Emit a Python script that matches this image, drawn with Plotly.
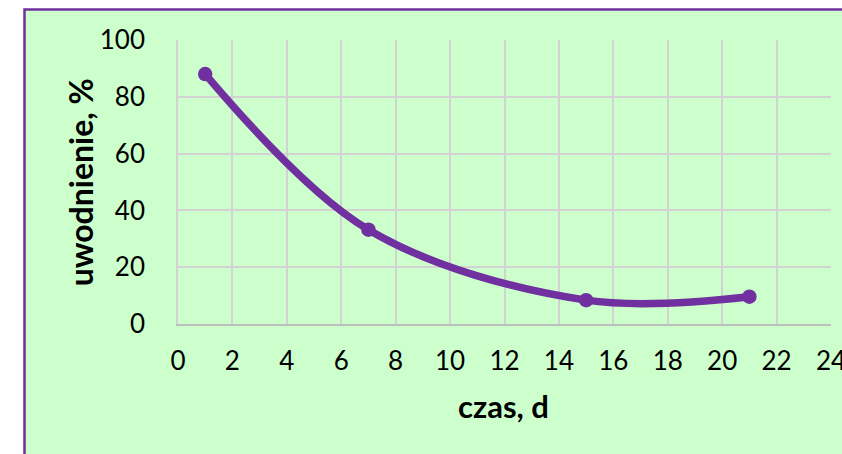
import plotly.graph_objects as go

# Hydration over time
czas = [1, 7, 15, 21]
uwodnienie = [88.0, 33.2, 8.4, 9.6]

x_ticks = list(range(0, 25, 2))
y_ticks = list(range(0, 101, 20))

W, H = 842, 454
ML, MR, MT, MB = 178, 11, 40, 129.5
pw = W - ML - MR
ph = H - MT - MB

PURPLE = "#7030A0"
GREEN = "#CCFFCC"
GRID = "#D2D2D2"
FONT = "Lato"


def px_x(p):
    return (p - ML) / pw


def px_y(p):
    return 1 - (p - MT) / ph


fig = go.Figure()
fig.add_trace(go.Scatter(
    x=czas, y=uwodnienie,
    mode="lines+markers",
    line=dict(color=PURPLE, width=7.5, shape="spline", smoothing=1),
    marker=dict(color=PURPLE, size=14.5),
    showlegend=False,
    hoverinfo="skip",
))

# green chart panel with purple frame (left and top edges visible)
fig.add_shape(
    type="rect", xref="paper", yref="paper",
    x0=px_x(24.5), x1=px_x(W + 20), y0=px_y(H + 20), y1=px_y(9.5),
    fillcolor=GREEN, line=dict(color=PURPLE, width=2.5), layer="below",
)

# axis titles
fig.add_annotation(
    text="<b>czas, d</b>", xref="paper", yref="paper",
    x=px_x(503), y=px_y(407), xanchor="center", yanchor="middle",
    showarrow=False, font=dict(family=FONT, size=31, color="black"),
)
fig.add_annotation(
    text="<b>uwodnienie, %</b>", xref="paper", yref="paper",
    x=px_x(80), y=px_y(182.5), xanchor="center", yanchor="middle",
    textangle=-90, showarrow=False,
    font=dict(family=FONT, size=32, color="black"),
)

fig.update_layout(
    width=W, height=H,
    margin=dict(l=ML, r=MR, t=MT, b=MB),
    paper_bgcolor="white",
    plot_bgcolor="rgba(0,0,0,0)",
    font=dict(family=FONT, size=26, color="black"),
)
fig.update_xaxes(
    range=[0, 24], tickvals=x_ticks, ticktext=[str(v) for v in x_ticks],
    showgrid=True, gridcolor=GRID, gridwidth=1.6,
    showline=True, linecolor="#BFBFBF", linewidth=1.8,
    zeroline=False, ticks="", ticklabelstandoff=13,
    ticklabeloverflow="allow", automargin=False,
)
fig.update_yaxes(
    range=[0, 100], tickvals=y_ticks, ticktext=[str(v) for v in y_ticks],
    showgrid=True, gridcolor=GRID, gridwidth=1.6,
    showline=True, linecolor=GRID, linewidth=1.6,
    zeroline=False, ticks="", ticklabelstandoff=26,
    ticklabeloverflow="allow", automargin=False,
)

fig.write_html("out.html")
